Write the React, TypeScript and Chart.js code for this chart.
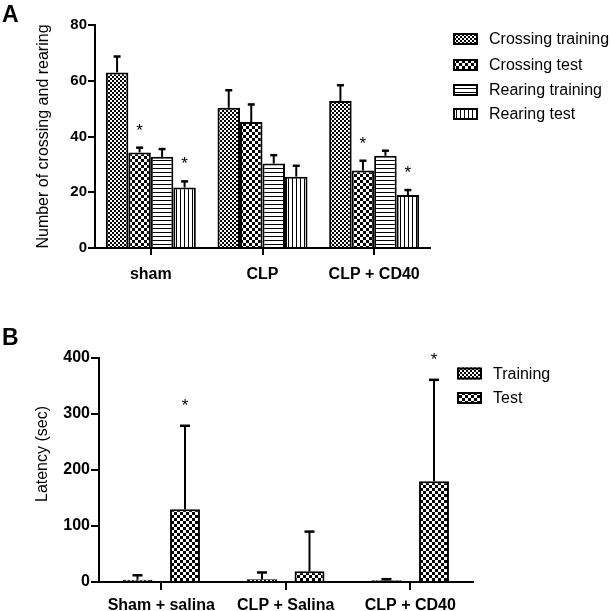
import { useEffect, useRef } from "react";
import { Chart, registerables } from "chart.js";

Chart.register(...registerables);

const FONT = '"Liberation Sans", Arial, sans-serif';

// ---------- Panel A data ----------
const groupsA = ["sham", "CLP", "CLP + CD40"];
const seriesA = ["Crossing training", "Crossing test", "Rearing training", "Rearing test"];
const crossingTraining = [63, 50.3, 52.7];
const crossingTrainingErr = [5.7, 6.3, 5.7];
const crossingTest = [34.3, 45.2, 27.8];
const crossingTestErr = [1.7, 6.3, 3.5];
const rearingTraining = [32.7, 30.3, 33.1];
const rearingTrainingErr = [2.8, 3.0, 1.8];
const rearingTest = [21.7, 25.6, 19.0];
const rearingTestErr = [2.2, 3.9, 1.8];
const starsCrossingTest = [true, false, true];
const starsRearingTest = [true, false, true];
const ticksA = [0, 20, 40, 60, 80];

// ---------- Panel B data ----------
const groupsB = ["Sham + salina", "CLP + Salina", "CLP + CD40"];
const seriesB = ["Training", "Test"];
const training = [4, 5, 3];
const trainingErr = [8, 12, 2];
const test = [130, 19, 180];
const testErr = [149, 71, 181];
const starsTraining = [false, false, false];
const starsTest = [true, false, true];
const ticksB = [0, 100, 200, 300, 400];

function makePattern(kind: string): CanvasPattern {
  const c = document.createElement("canvas");
  const s = kind === "big" ? 6 : 4;
  c.width = s;
  c.height = s;
  const x = c.getContext("2d")!;
  x.fillStyle = "#fff";
  x.fillRect(0, 0, s, s);
  x.fillStyle = "#000";
  if (kind === "fine") {
    x.fillRect(0, 0, 2, 2);
    x.fillRect(2, 2, 2, 2);
  } else if (kind === "big") {
    x.fillRect(0, 0, 3, 3);
    x.fillRect(3, 3, 3, 3);
  } else if (kind === "h") {
    x.fillRect(0, 0, 4, 1);
  } else if (kind === "v") {
    x.fillRect(0, 0, 1, 4);
  }
  return x.createPattern(c, "repeat")!;
}

function errorPlugin(id: string, errs: number[][], stars: boolean[][], cap: number, starGap: number) {
  return {
    id,
    afterDatasetsDraw(chart: any) {
      const ctx = chart.ctx as CanvasRenderingContext2D;
      const y = chart.scales.y;
      ctx.save();
      ctx.strokeStyle = "#000";
      ctx.fillStyle = "#000";
      ctx.lineWidth = 2;
      chart.data.datasets.forEach((ds: any, di: number) => {
        const meta = chart.getDatasetMeta(di);
        meta.data.forEach((el: any, i: number) => {
          const v = ds.data[i] as number;
          const top = y.getPixelForValue(v + errs[di][i]);
          const bx = el.x;
          ctx.beginPath();
          ctx.moveTo(bx, el.y);
          ctx.lineTo(bx, top);
          ctx.stroke();
          ctx.lineWidth = 2.5;
          ctx.beginPath();
          ctx.moveTo(bx - cap / 2, top);
          ctx.lineTo(bx + cap / 2, top);
          ctx.stroke();
          ctx.lineWidth = 2;
          if (stars[di][i]) {
            ctx.font = `17px ${FONT}`;
            ctx.textAlign = "center";
            ctx.textBaseline = "alphabetic";
            ctx.fillText("*", bx, top - starGap + 10);
          }
        });
      });
      ctx.restore();
    },
  };
}

function decorPlugin(
  id: string,
  labels: string[],
  patterns: CanvasPattern[],
  boxX: number,
  rowY: number[],
  textX: number,
  letter: string,
  letterX: number,
  letterY: number,
  yTitle: string | null,
  yTitleX: number,
  yTitleY: number
) {
  return {
    id,
    afterDraw(chart: any) {
      const ctx = chart.ctx as CanvasRenderingContext2D;
      ctx.save();
      labels.forEach((lab, i) => {
        const cy = rowY[i];
        ctx.fillStyle = patterns[i];
        ctx.fillRect(boxX, cy - 6, 25, 12);
        ctx.strokeStyle = "#000";
        ctx.lineWidth = 2;
        ctx.strokeRect(boxX + 1, cy - 5, 23, 10);
        ctx.fillStyle = "#000";
        ctx.font = `16px ${FONT}`;
        ctx.textAlign = "left";
        ctx.textBaseline = "middle";
        ctx.fillText(lab, textX, cy + 1);
      });
      ctx.fillStyle = "#000";
      ctx.font = `bold 23px ${FONT}`;
      ctx.textAlign = "left";
      ctx.textBaseline = "alphabetic";
      ctx.fillText(letter, letterX, letterY);
      if (yTitle) {
        ctx.translate(yTitleX, yTitleY);
        ctx.rotate(-Math.PI / 2);
        ctx.font = `16px ${FONT}`;
        ctx.textAlign = "center";
        ctx.textBaseline = "middle";
        ctx.fillText(yTitle, 0, 0);
      }
      ctx.restore();
    },
  };
}

function axisX(tickLen: number, pad: number, h: number) {
  return {
    grid: {
      display: true,
      offset: false,
      drawOnChartArea: false,
      drawTicks: true,
      tickLength: tickLen,
      color: "#000",
      lineWidth: 2,
    },
    border: { display: true, color: "#000", width: 2 },
    ticks: {
      color: "#000",
      font: { family: FONT, size: 16, weight: "bold" },
      padding: pad,
      maxRotation: 0,
      autoSkip: false,
    },
    afterFit: (s: any) => {
      s.height = h;
    },
  };
}

export default function App() {
  const refA = useRef<HTMLCanvasElement>(null);
  const refB = useRef<HTMLCanvasElement>(null);

  useEffect(() => {
    const patA = [makePattern("fine"), makePattern("big"), makePattern("h"), makePattern("v")];
    const patB = [makePattern("fine"), makePattern("big")];
    const valuesA = [crossingTraining, crossingTest, rearingTraining, rearingTest];
    const errsA = [crossingTrainingErr, crossingTestErr, rearingTrainingErr, rearingTestErr];
    const starsA = [[false, false, false], starsCrossingTest, [false, false, false], starsRearingTest];
    const valuesB = [training, test];
    const errsB = [trainingErr, testErr];
    const starsB = [starsTraining, starsTest];

    const chartA = new Chart(refA.current!, {
      type: "bar",
      data: {
        labels: groupsA,
        datasets: seriesA.map((name, k) => ({
          label: name,
          data: valuesA[k],
          backgroundColor: patA[k],
          borderColor: "#000",
          borderWidth: 2,
          categoryPercentage: 0.806,
          barPercentage: 1,
        })),
      },
      options: {
        responsive: false,
        animation: false,
        layout: { padding: { left: 0, top: 25, right: 181, bottom: 0 } },
        plugins: { legend: { display: false }, tooltip: { enabled: false } },
        scales: {
          x: axisX(7, 10, 52) as any,
          y: {
            min: ticksA[0],
            max: ticksA[ticksA.length - 1],
            afterBuildTicks: (s: any) => {
              s.ticks = ticksA.map((v) => ({ value: v }));
            },
            grid: {
              display: true,
              drawOnChartArea: false,
              drawTicks: true,
              tickLength: 7,
              color: "#000",
              lineWidth: 2,
            },
            border: { display: true, color: "#000", width: 2 },
            ticks: {
              color: "#000",
              font: { family: FONT, size: 15, weight: "bold" },
              padding: 1,
            },
            title: {
              display: true,
              text: "Number of crossing and rearing",
              color: "#000",
              font: { family: FONT, size: 16 },
              padding: { top: 34, bottom: 0 },
            },
            afterFit: (s: any) => {
              s.width = 95;
            },
          } as any,
        },
      },
      plugins: [
        errorPlugin("errA", errsA, starsA, 7, 22),
        decorPlugin("decA", seriesA, patA, 453, [39, 65, 90, 114], 489, "A", 2, 22, null, 0, 0),
      ],
    });

    const chartB = new Chart(refB.current!, {
      type: "bar",
      data: {
        labels: groupsB,
        datasets: seriesB.map((name, k) => ({
          label: name,
          data: valuesB[k],
          backgroundColor: patB[k],
          borderColor: "#000",
          borderWidth: 2,
          categoryPercentage: 0.763,
          barPercentage: 0.63,
        })),
      },
      options: {
        responsive: false,
        animation: false,
        layout: { padding: { left: 0, top: 38, right: 138.5, bottom: 0 } },
        plugins: { legend: { display: false }, tooltip: { enabled: false } },
        scales: {
          x: axisX(8, 6, 29) as any,
          y: {
            min: ticksB[0],
            max: ticksB[ticksB.length - 1],
            afterBuildTicks: (s: any) => {
              s.ticks = ticksB.map((v) => ({ value: v }));
            },
            grid: {
              display: true,
              drawOnChartArea: false,
              drawTicks: true,
              tickLength: 8,
              color: "#000",
              lineWidth: 2,
            },
            border: { display: true, color: "#000", width: 2 },
            ticks: {
              color: "#000",
              font: { family: FONT, size: 16, weight: "bold" },
              padding: 1,
            },
            afterFit: (s: any) => {
              s.width = 99;
            },
          } as any,
        },
      },
      plugins: [
        errorPlugin("errB", errsB, starsB, 10, 25),
        decorPlugin("decB", seriesB, patB, 457, [53.5, 78], 493, "B", 2, 25, "Latency (sec)", 43, 134),
      ],
    });

    return () => {
      chartA.destroy();
      chartB.destroy();
    };
  }, []);

  return (
    <div style={{ position: "absolute", left: 0, top: 0, width: 611, height: 611, background: "#fff" }}>
      <canvas
        ref={refA}
        width={611}
        height={300}
        style={{ position: "absolute", left: 0, top: 0, width: 611, height: 300 }}
      />
      <canvas
        ref={refB}
        width={611}
        height={291}
        style={{ position: "absolute", left: 0, top: 320, width: 611, height: 291 }}
      />
    </div>
  );
}
